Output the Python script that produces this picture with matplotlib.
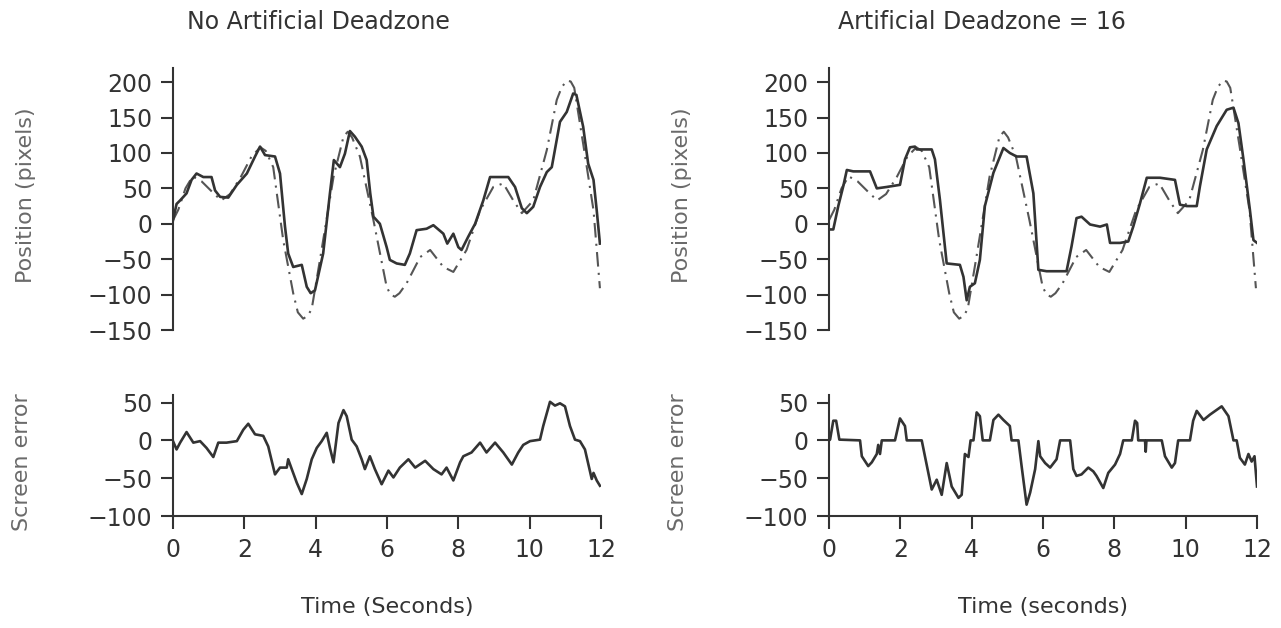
import matplotlib
matplotlib.use("Agg")
import matplotlib.pyplot as plt

# target (reference) trajectory, same in both panels
ref_t = [0, 0.15, 0.35, 0.55, 0.8, 1.1, 1.35, 1.6, 1.9, 2.2, 2.45, 2.6, 2.81, 3.09,
         3.37, 3.5, 3.65, 3.78, 3.89, 4.12, 4.5, 4.78, 4.9, 5.02, 5.24, 5.62, 5.99,
         6.1, 6.22, 6.35, 6.55, 6.93, 7.21, 7.58, 7.86, 8.23, 8.61, 8.98, 9.26, 9.54,
         9.78, 10.1, 10.48, 10.76, 10.9, 11.04, 11.15, 11.25, 11.5, 11.79, 11.97]
ref_v = [5, 20, 50, 67, 60, 45, 33, 42, 66, 95, 108, 103, 80, -23,
         -98, -125, -134, -130, -120, -51, 66, 123, 130, 122, 95, 5, -89,
         -100, -103, -98, -84, -47, -37, -61, -68, -37, 19, 52, 57, 33,
         15, 33, 104, 175, 193, 202, 201, 192, 113, 19, -91]

# actual cursor position, no deadzone
pos1_t = [0, 0.1, 0.2, 0.38, 0.52, 0.66, 0.85, 1.08, 1.18, 1.32, 1.55, 1.79, 2.07,
          2.3, 2.44, 2.58, 2.86, 3.0, 3.14, 3.23, 3.37, 3.61, 3.75, 3.86, 3.98, 4.21,
          4.4, 4.51, 4.68, 4.82, 4.96, 5.1, 5.29, 5.43, 5.53, 5.62, 5.8, 5.99, 6.08,
          6.27, 6.5, 6.64, 6.83, 7.11, 7.3, 7.58, 7.69, 7.86, 8.0, 8.09, 8.28, 8.47,
          8.7, 8.89, 9.17, 9.4, 9.59, 9.78, 9.92, 10.1, 10.29, 10.48, 10.62, 10.85,
          11.04, 11.22, 11.31, 11.5, 11.64, 11.79, 11.88, 11.97]
pos1_v = [5, 28, 33, 43, 62, 71, 66, 66, 47, 38, 37, 55, 71,
          95, 109, 97, 95, 71, -4, -42, -61, -58, -89, -98, -94, -42,
          43, 90, 80, 99, 131, 123, 109, 90, 43, 10, 0, -33, -51,
          -56, -58, -42, -9, -7, -2, -14, -28, -14, -33, -37, -18, 0,
          33, 66, 66, 66, 52, 22, 15, 24, 52, 73, 80, 144,
          158, 184, 182, 137, 85, 62, 19, -28]

# actual cursor position, deadzone = 16
pos2_t = [0, 0.05, 0.12, 0.26, 0.4, 0.5, 0.68, 1.15, 1.34, 1.62, 1.99, 2.13, 2.27,
          2.41, 2.46, 2.88, 2.97, 3.11, 3.3, 3.67, 3.77, 3.86, 3.95, 4.09, 4.23, 4.37,
          4.61, 4.89, 5.07, 5.26, 5.54, 5.73, 5.87, 6.1, 6.66, 6.8, 6.94, 7.08, 7.32,
          7.6, 7.79, 7.88, 8.16, 8.39, 8.53, 8.72, 8.91, 9.28, 9.7, 9.84, 10.03,
          10.31, 10.4, 10.59, 10.87, 11.15, 11.34, 11.48, 11.62, 11.8, 11.9, 12.0]
pos2_v = [-8, -8, -8, 25, 53, 76, 74, 74, 50, 52, 55, 91, 108,
          109, 105, 105, 91, 34, -56, -58, -75, -108, -89, -84, -51, 25,
          72, 107, 100, 95, 95, 43, -65, -67, -67, -32, 8, 10, -1,
          -4, -1, -27, -27, -25, -4, 29, 65, 65, 62, 27, 25,
          25, 53, 105, 138, 161, 164, 142, 91, 20, -23, -27]

# screen error, no deadzone
err1_t = [0, 0.1, 0.2, 0.38, 0.57, 0.76, 0.94, 1.13, 1.27, 1.5, 1.79, 1.97, 2.11,
          2.3, 2.53, 2.67, 2.86, 3.0, 3.19, 3.23, 3.33, 3.47, 3.61, 3.75, 3.89, 4.03,
          4.17, 4.31, 4.4, 4.5, 4.64, 4.78, 4.87, 5.01, 5.15, 5.29, 5.38, 5.52, 5.66,
          5.85, 6.04, 6.18, 6.36, 6.6, 6.79, 7.07, 7.3, 7.53, 7.67, 7.86, 8.05, 8.14,
          8.37, 8.61, 8.79, 9.03, 9.26, 9.5, 9.68, 9.82, 10.01, 10.29, 10.38, 10.57,
          10.71, 10.85, 10.99, 11.13, 11.27, 11.41, 11.55, 11.74, 11.79, 11.88, 11.97]
err1_v = [-1, -12, -3, 11, -3, -1, -10, -22, -3, -3, -1, 14, 22,
          8, 6, -8, -45, -36, -36, -25, -38, -56, -71, -51, -25, -10,
          -1, 10, -10, -29, 23, 40, 32, 1, -8, -25, -38, -21, -38,
          -58, -40, -49, -36, -25, -36, -27, -38, -45, -36, -53, -29, -21,
          -16, -3, -16, -3, -16, -32, -16, -6, -1, 1, 19, 51,
          46, 49, 45, 19, 1, -1, -12, -51, -43, -53, -60]

# screen error, deadzone = 16
err2_t = [0, 0.03, 0.12, 0.2, 0.29, 0.87, 0.92, 1.1, 1.2, 1.34, 1.38, 1.43, 1.48,
          1.85, 1.99, 2.13, 2.18, 2.6, 2.69, 2.88, 3.02, 3.16, 3.3, 3.44, 3.63, 3.72,
          3.81, 3.91, 3.97, 4.05, 4.14, 4.23, 4.31, 4.51, 4.61, 4.75, 4.89, 5.07,
          5.12, 5.31, 5.4, 5.54, 5.64, 5.78, 5.87, 5.92, 6.06, 6.2, 6.38, 6.48, 6.76,
          6.85, 6.94, 7.08, 7.27, 7.41, 7.5, 7.69, 7.83, 8.02, 8.16, 8.25, 8.49, 8.58,
          8.64, 8.67, 8.86, 8.88, 8.9, 9.33, 9.42, 9.61, 9.7, 9.79, 10.12, 10.21,
          10.31, 10.5, 10.68, 11.01, 11.2, 11.34, 11.43, 11.52, 11.66, 11.76, 11.85,
          11.93, 12.0]
err2_v = [0, 1, 26, 26, 1, 0, -21, -34, -29, -18, -6, -18, 0,
          0, 29, 19, 0, 0, -21, -65, -52, -72, -30, -61, -76, -72,
          -18, -22, 0, 0, 37, 32, 0, 0, 27, 34, 27, 19,
          0, 0, -34, -85, -69, -38, -1, -21, -30, -36, -25, 0, 0,
          -38, -47, -45, -36, -41, -47, -63, -43, -32, -18, 0, 0, 26,
          23, 0, 0, -15, 0, 0, -21, -36, -30, 0, 0, 26,
          39, 27, 34, 45, 32, 0, 0, -23, -32, -18, -28,
          -21, -61]

pos_ticks = [-150, -100, -50, 0, 50, 100, 150, 200]
err_ticks = [-100, -50, 0, 50]
time_ticks = [0, 2, 4, 6, 8, 10, 12]

plt.rcParams['font.family'] = ['DejaVu Sans']
W, H = 1281, 628
fig = plt.figure(figsize=(W / 100, H / 100), dpi=100)

ink = '#333333'
label_col = '#6a6a6a'
ref_style = (0, (7, 3, 1, 3))


def style_axis(ax, ticks, ylim, show_x):
    ax.set_xlim(0, 12)
    ax.set_ylim(*ylim)
    for s in ['top', 'right']:
        ax.spines[s].set_visible(False)
    ax.spines['left'].set_color(ink)
    ax.spines['left'].set_linewidth(1.5)
    ax.spines['left'].set_bounds(ticks[0], ylim[1])
    ax.set_yticks(ticks)
    ax.set_yticklabels(['\u2212' + str(-t) if t < 0 else str(t) for t in ticks])
    ax.tick_params(axis='y', direction='out', length=9, width=1.5, color=ink,
                   labelsize=17, labelcolor=ink, pad=6)
    if show_x:
        ax.spines['bottom'].set_color(ink)
        ax.spines['bottom'].set_linewidth(1.5)
        ax.set_xticks(time_ticks)
        ax.tick_params(axis='x', direction='out', length=9, width=1.5, color=ink,
                       labelsize=17, labelcolor=ink, pad=7)
    else:
        ax.spines['bottom'].set_visible(False)
        ax.set_xticks([])


panels = [
    (173, pos1_t, pos1_v, err1_t, err1_v, 'No Artificial Deadzone', 'Time (Seconds)', 318),
    (829, pos2_t, pos2_v, err2_t, err2_v, 'Artificial Deadzone = 16', 'Time (seconds)', 982),
]

for x0, pt, pv, et, ev, title, xlab, title_x in panels:
    axw = 428 / W
    ax1 = fig.add_axes([x0 / W, 1 - 330 / H, axw, 262 / H])
    ax1.plot(ref_t, ref_v, color='#555555', lw=1.5, linestyle=ref_style)
    ax1.plot(pt, pv, color=ink, lw=1.9)
    style_axis(ax1, pos_ticks, (-150, 220), False)

    ax2 = fig.add_axes([x0 / W, 1 - 516 / H, axw, 121 / H])
    ax2.plot(et, ev, color=ink, lw=1.9)
    style_axis(ax2, err_ticks, (-100, 60), True)

    fig.text(title_x / W, 1 - 22 / H, title, ha='center', va='center',
             fontsize=17, color=ink)
    fig.text((x0 + 214) / W, 1 - 607 / H, xlab, ha='center', va='center',
             fontsize=16, color=ink)
    fig.text((x0 - 147) / W, 1 - 195 / H, 'Position (pixels)', rotation=90,
             ha='center', va='center', fontsize=16, color=label_col)
    fig.text((x0 - 151) / W, 1 - 462 / H, 'Screen error', rotation=90,
             ha='center', va='center', fontsize=16, color=label_col)

fig.savefig('out.png', dpi=100)
